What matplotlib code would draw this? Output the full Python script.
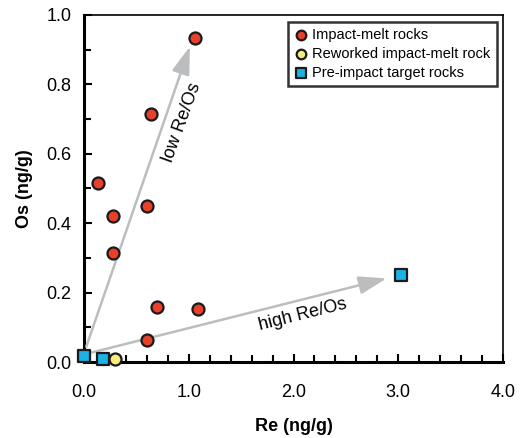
import matplotlib.pyplot as plt
from matplotlib.ticker import MultipleLocator, FormatStrFormatter

plt.rcParams['font.family'] = ['Liberation Sans', 'DejaVu Sans']

# Impact-melt rocks
melt_re = [1.06, 0.64, 0.13, 0.60, 0.28, 0.28, 0.70, 1.09, 0.60]
melt_os = [0.933, 0.714, 0.515, 0.45, 0.42, 0.315, 0.158, 0.152, 0.063]
# Reworked impact-melt rock
rew_re = [0.29]
rew_os = [0.008]
# Pre-impact target rocks
tgt_re = [0.0, 0.18, 3.03]
tgt_os = [0.017, 0.008, 0.25]

fig = plt.figure(figsize=(5.26, 4.38), dpi=100)
ax = fig.add_axes([0.16, 0.1735, 0.796, 0.7925])

# arrows
arrow_style = dict(arrowstyle='-|>,head_length=1.7,head_width=0.55', color='#bcbdbf', lw=1.8,
                   shrinkA=0, shrinkB=0)
ax.annotate('', xy=(1.01, 0.909), xytext=(0.02, 0.044), arrowprops=arrow_style)
ax.annotate('', xy=(2.89, 0.241), xytext=(0.04, 0.025), arrowprops=arrow_style)
ax.text(0.93, 0.69, 'low Re/Os', rotation=70, ha='center', va='center', fontsize=13)
ax.text(2.09, 0.135, 'high Re/Os', rotation=14, ha='center', va='center', fontsize=13)

ax.scatter(melt_re, melt_os, s=75, c='#e8402a', edgecolors='#1a1a1a', linewidths=1.6,
           label='Impact-melt rocks', zorder=3, clip_on=False)
ax.scatter(rew_re, rew_os, s=75, c='#f8ec7c', edgecolors='#1a1a1a', linewidths=1.6,
           label='Reworked impact-melt rock', zorder=3, clip_on=False)
ax.scatter(tgt_re, tgt_os, s=85, marker='s', c='#1cb2e6', edgecolors='#1a1a1a', linewidths=1.6,
           label='Pre-impact target rocks', zorder=4, clip_on=False)

ax.set_xlim(0, 4)
ax.set_ylim(0, 1)
ax.xaxis.set_major_locator(MultipleLocator(1))
ax.xaxis.set_minor_locator(MultipleLocator(0.2))
ax.yaxis.set_major_locator(MultipleLocator(0.2))
ax.yaxis.set_minor_locator(MultipleLocator(0.1))
ax.xaxis.set_major_formatter(FormatStrFormatter('%.1f'))
ax.yaxis.set_major_formatter(FormatStrFormatter('%.1f'))
ax.tick_params(which='both', direction='in', width=1.5, labelsize=13, top=False, right=False)
ax.tick_params(which='major', length=6)
ax.tick_params(which='minor', length=5)
ax.tick_params(axis='x', pad=16)
ax.tick_params(axis='y', pad=9)
for side in ['left', 'bottom']:
    ax.spines[side].set_linewidth(2.2)
for side in ['top', 'right']:
    ax.spines[side].set_linewidth(1.2)

ax.set_xlabel('Re (ng/g)', fontsize=13, fontweight='bold', labelpad=12)
ax.set_ylabel('Os (ng/g)', fontsize=13, fontweight='bold', labelpad=10)

leg = ax.legend(loc='upper right', bbox_to_anchor=(0.985, 0.98), fontsize=10.5, frameon=True,
                fancybox=False, edgecolor='black', handletextpad=0.3, borderpad=0.4,
                labelspacing=0.35, handlelength=1.0, markerscale=0.8, borderaxespad=0)
leg.get_frame().set_linewidth(1.8)

fig.savefig('out.png', dpi=100)
